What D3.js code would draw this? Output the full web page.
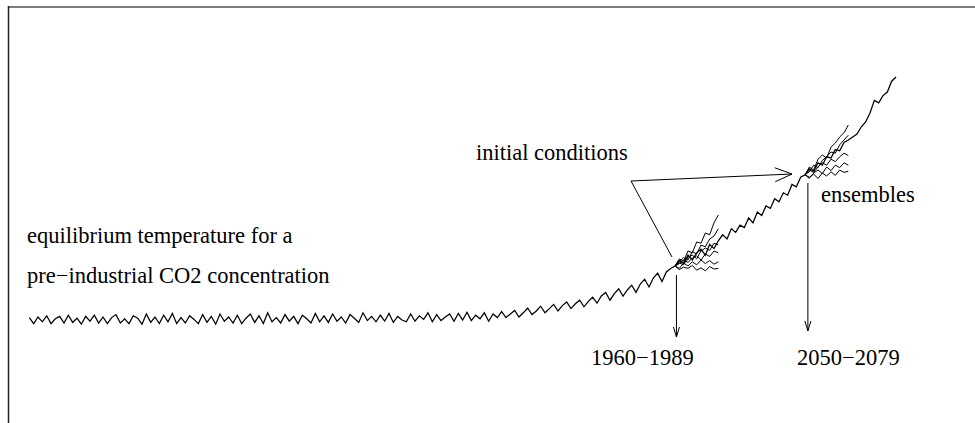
<!DOCTYPE html>
<html>
<head>
<meta charset="utf-8">
<script src="https://cdn.jsdelivr.net/npm/d3@7"></script>
<style>
  body { margin: 0; background: #fff; }
  svg { display: block; }
  .label { font-family: "Liberation Serif", "Times New Roman", serif; font-size: 22.5px; fill: #000; }
</style>
</head>
<body>
<svg id="chart" width="975" height="423"></svg>
<script>
// model run: temperature anomaly (degC), one value every 3 years from 1513
const startYear = 1513;
const stepYears = 3;
const controlRun = [
  0.04, -0.06, 0.05, -0.03, 0.07, -0.06, 0.02, 0.06, -0.05, 0.08,
  -0.04, 0.03, -0.07, 0.06, -0.02, 0.08, -0.05, 0.05, -0.06, 0.04,
  0.09, -0.05, 0.02, -0.06, 0.07, 0.03, -0.07, 0.10, -0.04, 0.05,
  -0.06, 0.08, -0.03, 0.11, -0.06, 0.04, -0.05, 0.07, 0.01, -0.06,
  0.09, -0.04, 0.06, -0.07, 0.10, -0.02, 0.05, -0.05, 0.08, -0.06,
  0.03, 0.10, -0.04, 0.07, -0.06, 0.12, -0.03, 0.04, -0.05, 0.09,
  -0.02, 0.06, -0.06, 0.08, 0.02, -0.05, 0.11, -0.03, 0.07, -0.04,
  0.10, -0.02, 0.05, -0.05, 0.09, 0.03, -0.04, 0.12, -0.01, 0.06,
  -0.03, 0.08, -0.02, 0.11, -0.04, 0.06, 0.00, -0.03, 0.10, -0.02,
  0.07, 0.01, 0.12, -0.03, 0.09, -0.01, 0.05, 0.10, -0.02, 0.11,
  0.00, 0.13, -0.01, 0.08, 0.02, 0.12, -0.02, 0.10, 0.04, 0.14,
  0.04, 0.10, 0.16, 0.05, 0.12, 0.20, 0.09, 0.15, 0.23, 0.12,
  0.19, 0.26, 0.15, 0.24, 0.30, 0.19, 0.27, 0.33, 0.22, 0.31,
  0.38, 0.28, 0.40, 0.46, 0.33, 0.44, 0.52, 0.40, 0.50, 0.58,
  0.46, 0.60, 0.68, 0.55, 0.70, 0.78, 0.64, 0.80, 0.86, 0.90,
  0.99, 0.94, 1.08, 1.00, 1.12, 1.18, 1.08, 1.26, 1.19, 1.32,
  1.42, 1.35, 1.52, 1.46, 1.58, 1.54, 1.70, 1.62, 1.80, 1.74,
  1.90, 1.86, 2.02, 1.97, 2.12, 2.08, 2.26, 2.22, 2.38, 2.42,
  2.52, 2.48, 2.62, 2.58, 2.72, 2.70, 2.84, 2.82, 2.96, 3.00,
  3.05, 3.10, 3.22, 3.30, 3.45, 3.66, 3.62, 3.74, 3.80, 3.98,
  4.05
];

// ensemble members, every 3 years from the start year
const ensembleStarts = [1960, 2050];
const ensemble1960 = [
  [0.90, 1.02, 0.98, 1.15, 1.12, 1.30, 1.28, 1.45, 1.42, 1.62, 1.75],
  [0.90, 0.97, 1.04, 1.00, 1.14, 1.10, 1.25, 1.22, 1.35, 1.40, 1.52],
  [0.90, 0.95, 0.92, 1.05, 1.08, 1.02, 1.15, 1.20, 1.16, 1.28, 1.25],
  [0.90, 0.94, 1.00, 0.96, 1.03, 1.07, 1.00, 1.10, 1.06, 1.15, 1.12],
  [0.90, 0.86, 0.95, 0.90, 0.97, 0.92, 1.00, 0.94, 0.99, 0.93, 0.97],
  [0.90, 0.84, 0.88, 0.86, 0.91, 0.83, 0.87, 0.82, 0.89, 0.85, 0.86]
];
const ensemble2050 = [
  [2.42, 2.55, 2.50, 2.68, 2.75, 2.70, 2.88, 2.95, 3.05, 3.12, 3.25],
  [2.42, 2.47, 2.58, 2.54, 2.66, 2.72, 2.80, 2.78, 2.92, 3.00, 3.08],
  [2.42, 2.50, 2.46, 2.55, 2.62, 2.58, 2.68, 2.64, 2.72, 2.78, 2.74],
  [2.42, 2.36, 2.45, 2.50, 2.44, 2.55, 2.49, 2.58, 2.54, 2.62, 2.58],
  [2.42, 2.38, 2.43, 2.36, 2.45, 2.40, 2.47, 2.41, 2.50, 2.46, 2.48]
];
const periodLabels = ["1960\u22121989", "2050\u22122079"];

const svg = d3.select("#chart");

const mapX = d3.scaleLinear().domain([1960, 2050]).range([675, 805]);
const mapY = d3.scaleLinear().domain([0, 4]).range([320, 80]);

// frame (top and left edges only)
svg.append("line")
    .attr("x1", 8).attr("y1", 7).attr("x2", 975).attr("y2", 7)
    .attr("stroke", "#7a7a7a").attr("stroke-width", 2);
svg.append("line")
    .attr("x1", 8.5).attr("y1", 6).attr("x2", 8.5).attr("y2", 423)
    .attr("stroke", "#222").attr("stroke-width", 1.5);

const line = d3.line()
    .x((d) => mapX(d.year))
    .y((d) => mapY(d.value));

const mainData = controlRun.map((v, i) => ({ year: startYear + i * stepYears, value: v }));

svg.append("path")
    .datum(mainData)
    .attr("fill", "none")
    .attr("stroke", "#000")
    .attr("stroke-width", 1.25)
    .attr("d", line);

[ensemble1960, ensemble2050].forEach((members, k) => {
    svg.append("g")
        .selectAll("path")
        .data(members)
        .enter()
        .append("path")
        .attr("fill", "none")
        .attr("stroke", "#000")
        .attr("stroke-width", 1)
        .attr("d", (m) => line(m.map((v, i) => ({ year: ensembleStarts[k] + i * stepYears, value: v }))));
});

// open arrowhead pointing at (x, y) coming from (fx, fy)
function arrowHead(g, fx, fy, x, y, len, half) {
    const a = Math.atan2(y - fy, x - fx);
    const bx = x - len * Math.cos(a), by = y - len * Math.sin(a);
    const px = -Math.sin(a) * half, py = Math.cos(a) * half;
    g.append("path")
        .attr("d", `M${bx + px},${by + py}L${x},${y}L${bx - px},${by - py}`)
        .attr("fill", "none")
        .attr("stroke", "#000")
        .attr("stroke-width", 1);
}

const notes = svg.append("g");

// period arrows
const periodArrows = [
    { x: mapX(1961), y1: 275, y2: 337, label: periodLabels[0], lx: 591 },
    { x: mapX(2052), y1: 183, y2: 331, label: periodLabels[1], lx: 797 }
];
periodArrows.forEach((p) => {
    notes.append("line")
        .attr("x1", p.x).attr("y1", p.y1).attr("x2", p.x).attr("y2", p.y2)
        .attr("stroke", "#000").attr("stroke-width", 1);
    arrowHead(notes, p.x, p.y1, p.x, p.y2, 10, 3);
    notes.append("text").attr("class", "label")
        .attr("x", p.lx).attr("y", 365)
        .text(p.label);
});

// initial conditions pointers
const icX = 631, icY = 181;
notes.append("line")
    .attr("x1", icX).attr("y1", icY).attr("x2", 792).attr("y2", 174)
    .attr("stroke", "#000").attr("stroke-width", 1);
arrowHead(notes, icX, icY, 792, 174, 17, 7);
notes.append("line")
    .attr("x1", icX).attr("y1", icY).attr("x2", 672).attr("y2", 257)
    .attr("stroke", "#000").attr("stroke-width", 1);

notes.append("text").attr("class", "label").attr("x", 476).attr("y", 160).text("initial conditions");
notes.append("text").attr("class", "label").attr("x", 821).attr("y", 202).text("ensembles");
notes.append("text").attr("class", "label").attr("x", 27).attr("y", 243).text("equilibrium temperature for a");
notes.append("text").attr("class", "label").attr("x", 27).attr("y", 283).text("pre\u2212industrial CO2 concentration");
</script>
</body>
</html>
